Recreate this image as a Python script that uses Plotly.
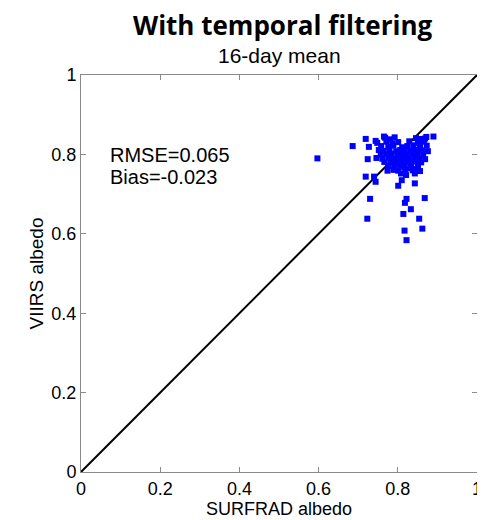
import plotly.graph_objects as go

# Scatter: SURFRAD albedo (x) vs VIIRS albedo (y)
surfrad = [
    0.597, 0.686, 0.719, 0.727, 0.744, 0.765, 0.724, 0.719, 0.740, 0.744,
    0.774, 0.730, 0.723, 0.801, 0.810, 0.843, 0.822, 0.818, 0.833, 0.814,
    0.868, 0.854, 0.862, 0.817, 0.822, 0.890, 0.869, 0.843, 0.821,
    # dense cluster
    0.768, 0.781, 0.792, 0.846, 0.858, 0.872,
    0.748, 0.771, 0.786, 0.801, 0.829, 0.851, 0.866,
    0.758, 0.776, 0.789, 0.811, 0.824, 0.839, 0.856, 0.873,
    0.752, 0.764, 0.779, 0.796, 0.806, 0.816, 0.831, 0.846, 0.861, 0.876,
    0.757, 0.771, 0.784, 0.799, 0.812, 0.821, 0.836, 0.849, 0.864,
    0.746, 0.761, 0.776, 0.789, 0.803, 0.815, 0.826, 0.841, 0.854, 0.869,
    0.766, 0.781, 0.794, 0.811, 0.822, 0.832, 0.846, 0.859,
    0.776, 0.791, 0.806, 0.816, 0.834, 0.851,
    0.789, 0.801, 0.819, 0.838, 0.856,
    0.808, 0.844, 0.828, 0.797,
]
viirs = [
    0.790, 0.821, 0.839, 0.819, 0.834, 0.845, 0.788, 0.744, 0.744, 0.731,
    0.759, 0.688, 0.638, 0.721, 0.735, 0.727, 0.688, 0.678, 0.662, 0.650,
    0.690, 0.638, 0.613, 0.608, 0.584, 0.845, 0.840, 0.752, 0.748,
    # dense cluster
    0.842, 0.838, 0.843, 0.841, 0.839, 0.844,
    0.829, 0.832, 0.828, 0.831, 0.833, 0.829, 0.832,
    0.821, 0.819, 0.822, 0.818, 0.821, 0.823, 0.820, 0.822,
    0.811, 0.809, 0.812, 0.808, 0.811, 0.813, 0.809, 0.812, 0.810, 0.808,
    0.799, 0.801, 0.802, 0.798, 0.801, 0.799, 0.802, 0.800, 0.798,
    0.791, 0.789, 0.792, 0.790, 0.788, 0.791, 0.789, 0.792, 0.790, 0.788,
    0.781, 0.779, 0.782, 0.778, 0.781, 0.779, 0.782, 0.780,
    0.771, 0.769, 0.772, 0.768, 0.771, 0.770,
    0.761, 0.759, 0.762, 0.760, 0.758,
    0.752, 0.763, 0.765, 0.776,
]

one_to_one = [0, 1]
tick_vals = [0, 0.2, 0.4, 0.6, 0.8, 1]
tick_text = ["0", "0.2", "0.4", "0.6", "0.8", "1"]
stats_text = ["RMSE=0.065", "Bias=-0.023"]
x_title = "SURFRAD albedo"
y_title = "VIIRS albedo"

FONT = "Liberation Sans, Arial, sans-serif"

fig = go.Figure()
fig.add_trace(go.Scatter(
    x=one_to_one, y=one_to_one, mode="lines",
    line=dict(color="black", width=2), hoverinfo="skip"))
fig.add_trace(go.Scatter(
    x=surfrad, y=viirs, mode="markers",
    marker=dict(symbol="square", size=6, color="#0000FF", line=dict(width=0))))

axis_common = dict(
    range=[0, 1], tickvals=tick_vals, ticktext=tick_text, automargin=False,
    showgrid=False, zeroline=False, showline=True, mirror="ticks",
    linecolor="#8a8a8a", linewidth=1, ticks="inside", ticklen=5,
    tickcolor="#8a8a8a", tickfont=dict(family=FONT, size=18, color="black"),
)
fig.update_xaxes(**axis_common)
fig.update_yaxes(**axis_common)

# axis titles
fig.add_annotation(x=0.5, y=0, xref="paper", yref="paper", yshift=-37,
                   text=x_title, showarrow=False, yanchor="middle",
                   font=dict(family=FONT, size=18, color="black"))
fig.add_annotation(x=0, y=0.5, xref="paper", yref="paper", xshift=-45,
                   text=y_title, showarrow=False, textangle=-90, xanchor="center",
                   font=dict(family=FONT, size=19, color="black"))

fig.add_annotation(x=0.068, y=0.798, xref="x", yref="y", text=stats_text[0],
                   showarrow=False, xanchor="left",
                   font=dict(family=FONT, size=20, color="black"))
fig.add_annotation(x=0.068, y=0.743, xref="x", yref="y", text=stats_text[1],
                   showarrow=False, xanchor="left",
                   font=dict(family=FONT, size=20, color="black"))

fig.add_annotation(x=0.51, y=1, xref="paper", yref="paper", yshift=50,
                   text="<b>With temporal filtering</b>", showarrow=False, yanchor="middle",
                   font=dict(family="Open Sans", size=26, color="black"))
fig.add_annotation(x=0.5, y=1, xref="paper", yref="paper", yshift=20,
                   text="16-day mean", showarrow=False, yanchor="middle",
                   font=dict(family=FONT, size=21, color="black"))

# page body adds an 8px margin; sizes compensate so the plot box lands at 81..477 x 75..472
fig.update_layout(
    width=477, height=512, showlegend=False,
    margin=dict(l=73, r=8, t=67, b=48),
    paper_bgcolor="white", plot_bgcolor="white",
)
fig.write_html("out.html")
